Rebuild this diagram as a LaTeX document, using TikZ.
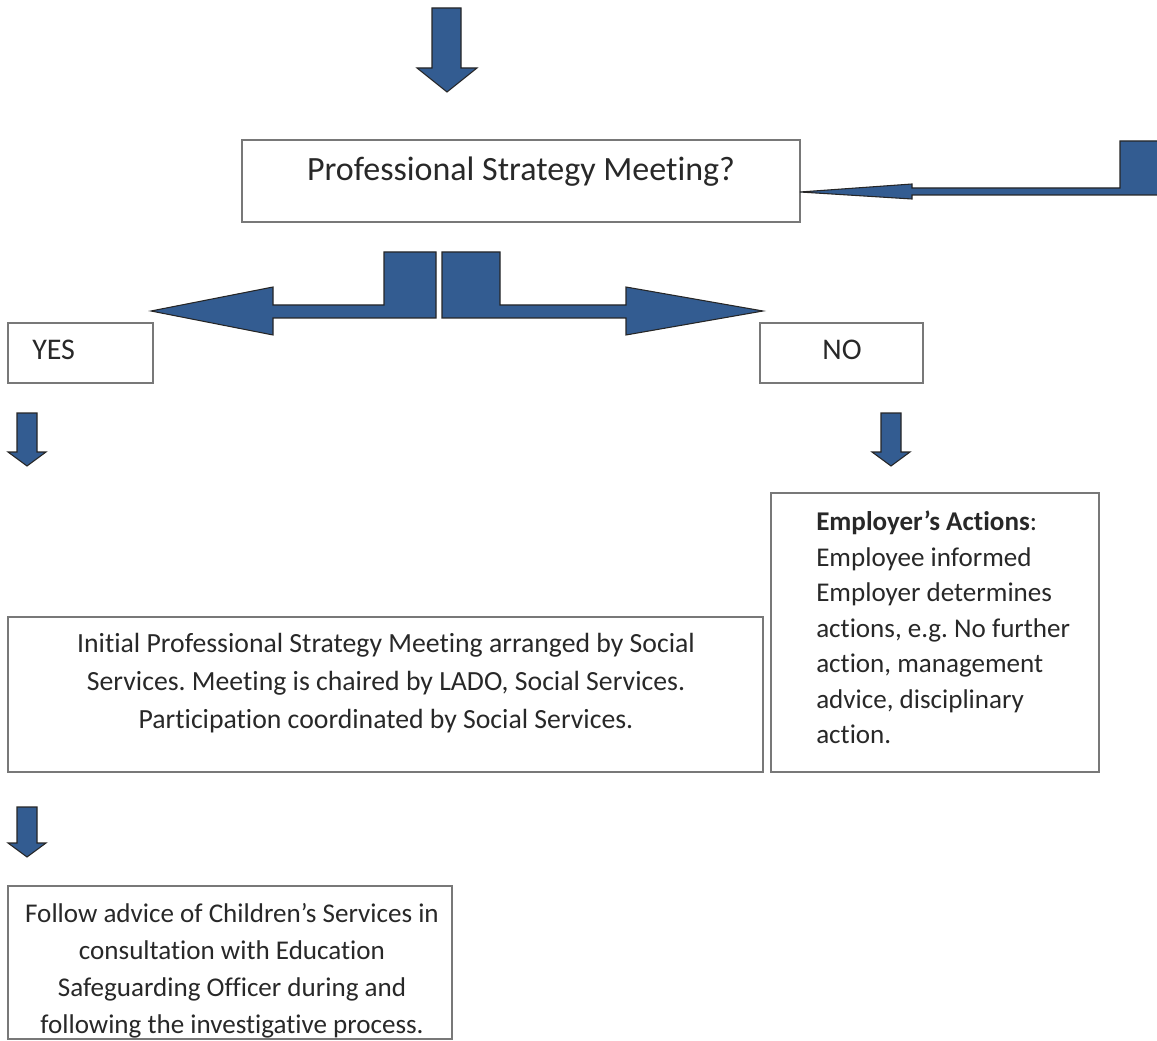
\documentclass[tikz,border=0pt]{standalone}
\usepackage{fontspec}
\setmainfont{Carlito}[Ligatures=NoCommon]
\usetikzlibrary{fit}
\frenchspacing

\definecolor{arrowblue}{RGB}{51,92,145}
\definecolor{boxgray}{RGB}{120,120,120}
\definecolor{textgray}{RGB}{40,40,40}

\tikzset{
  box/.style={draw=boxgray, line width=1.5pt, inner sep=0pt},
  blk/.style={fill=arrowblue, draw=black!85, line width=0.8pt, line join=miter},
  txt/.style={inner sep=0pt, text=textgray},
}

\begin{document}
\begin{tikzpicture}[x=0.75pt, y=-0.75pt]
    \clip (0,0) rectangle (1157,1041);

    % Top arrow
    \draw[blk] (432,8) -- (461,8) -- (461,68) -- (477,68) -- (447,92)
      -- (417,68) -- (432,68) -- cycle;

    % Question box
    \node[box, fit={(242,140) (800,222)}] (meet) {};
    \node[txt, anchor=north, font=\fontsize{25.5}{30}\selectfont]
      (meettext) at (521,157) {Professional Strategy Meeting?};

    % Arrow coming in from the right
    \draw[blk] (1120,141) -- (1170,141) -- (1170,195) -- (912,195)
      -- (912,199) -- (800,192) -- (912,184) -- (912,188) -- (1120,188) -- cycle;

    % Split arrows
    \draw[blk] (436,252) -- (436,318) -- (273,318) -- (273,335) -- (151,311)
      -- (273,287) -- (273,305) -- (384,305) -- (384,252) -- cycle;
    \draw[blk] (442,252) -- (442,318) -- (626,318) -- (626,335) -- (763,311)
      -- (626,287) -- (626,305) -- (500,305) -- (500,252) -- cycle;

    % Yes / No
    \node[box, fit={(8,323) (153,383)}] (yes) {};
    \node[txt, anchor=north west, font=\fontsize{22.5}{27}\selectfont]
      (yestext) at (32,340) {YES};
    \node[box, fit={(760,323) (923,383)}] (no) {};
    \node[txt, anchor=north, font=\fontsize{22.5}{27}\selectfont]
      (notext) at (842,340) {NO};

    % Small arrows
    \draw[blk] (17,413) -- (37,413) -- (37,452) -- (46,452) -- (27,466)
      -- (8,452) -- (17,452) -- cycle;
    \draw[blk] (881,413) -- (901,413) -- (901,452) -- (910,452) -- (891,466)
      -- (872,452) -- (881,452) -- cycle;

    % Employer's actions
    \node[box, fit={(771,493) (1099,772)}] (employer) {};
    \node[txt, anchor=north west, align=left,
      font=\fontsize{20.3}{26.6}\selectfont]
      (employertext) at (816,511)
      {\textbf{Employer’s Actions}:\\
       Employee informed\\
       Employer determines\\
       actions, e.g. No further\\
       action, management\\
       advice, disciplinary\\
       action.};

    % Initial meeting
    \node[box, fit={(8,617) (763,772)}] (initial) {};
    \node[txt, anchor=north, align=center,
      font=\fontsize{20.8}{28.5}\selectfont]
      (initialtext) at (386,633)
      {Initial Professional Strategy Meeting arranged by Social\\
       Services. Meeting is chaired by LADO, Social Services.\\
       Participation coordinated by Social Services.};

    \draw[blk] (17,807) -- (37,807) -- (37,843) -- (46,843) -- (27,857)
      -- (8,843) -- (17,843) -- cycle;

    % Follow advice
    \node[box, fit={(8,886) (452,1039)}] (follow) {};
    \node[txt, anchor=north, align=center,
      font=\fontsize{20.3}{27.75}\selectfont]
      (followtext) at (232,903)
      {Follow advice of Children’s Services in\\
       consultation with Education\\
       Safeguarding Officer during and\\
       following the investigative process.};
  \end{tikzpicture}
\end{document}
